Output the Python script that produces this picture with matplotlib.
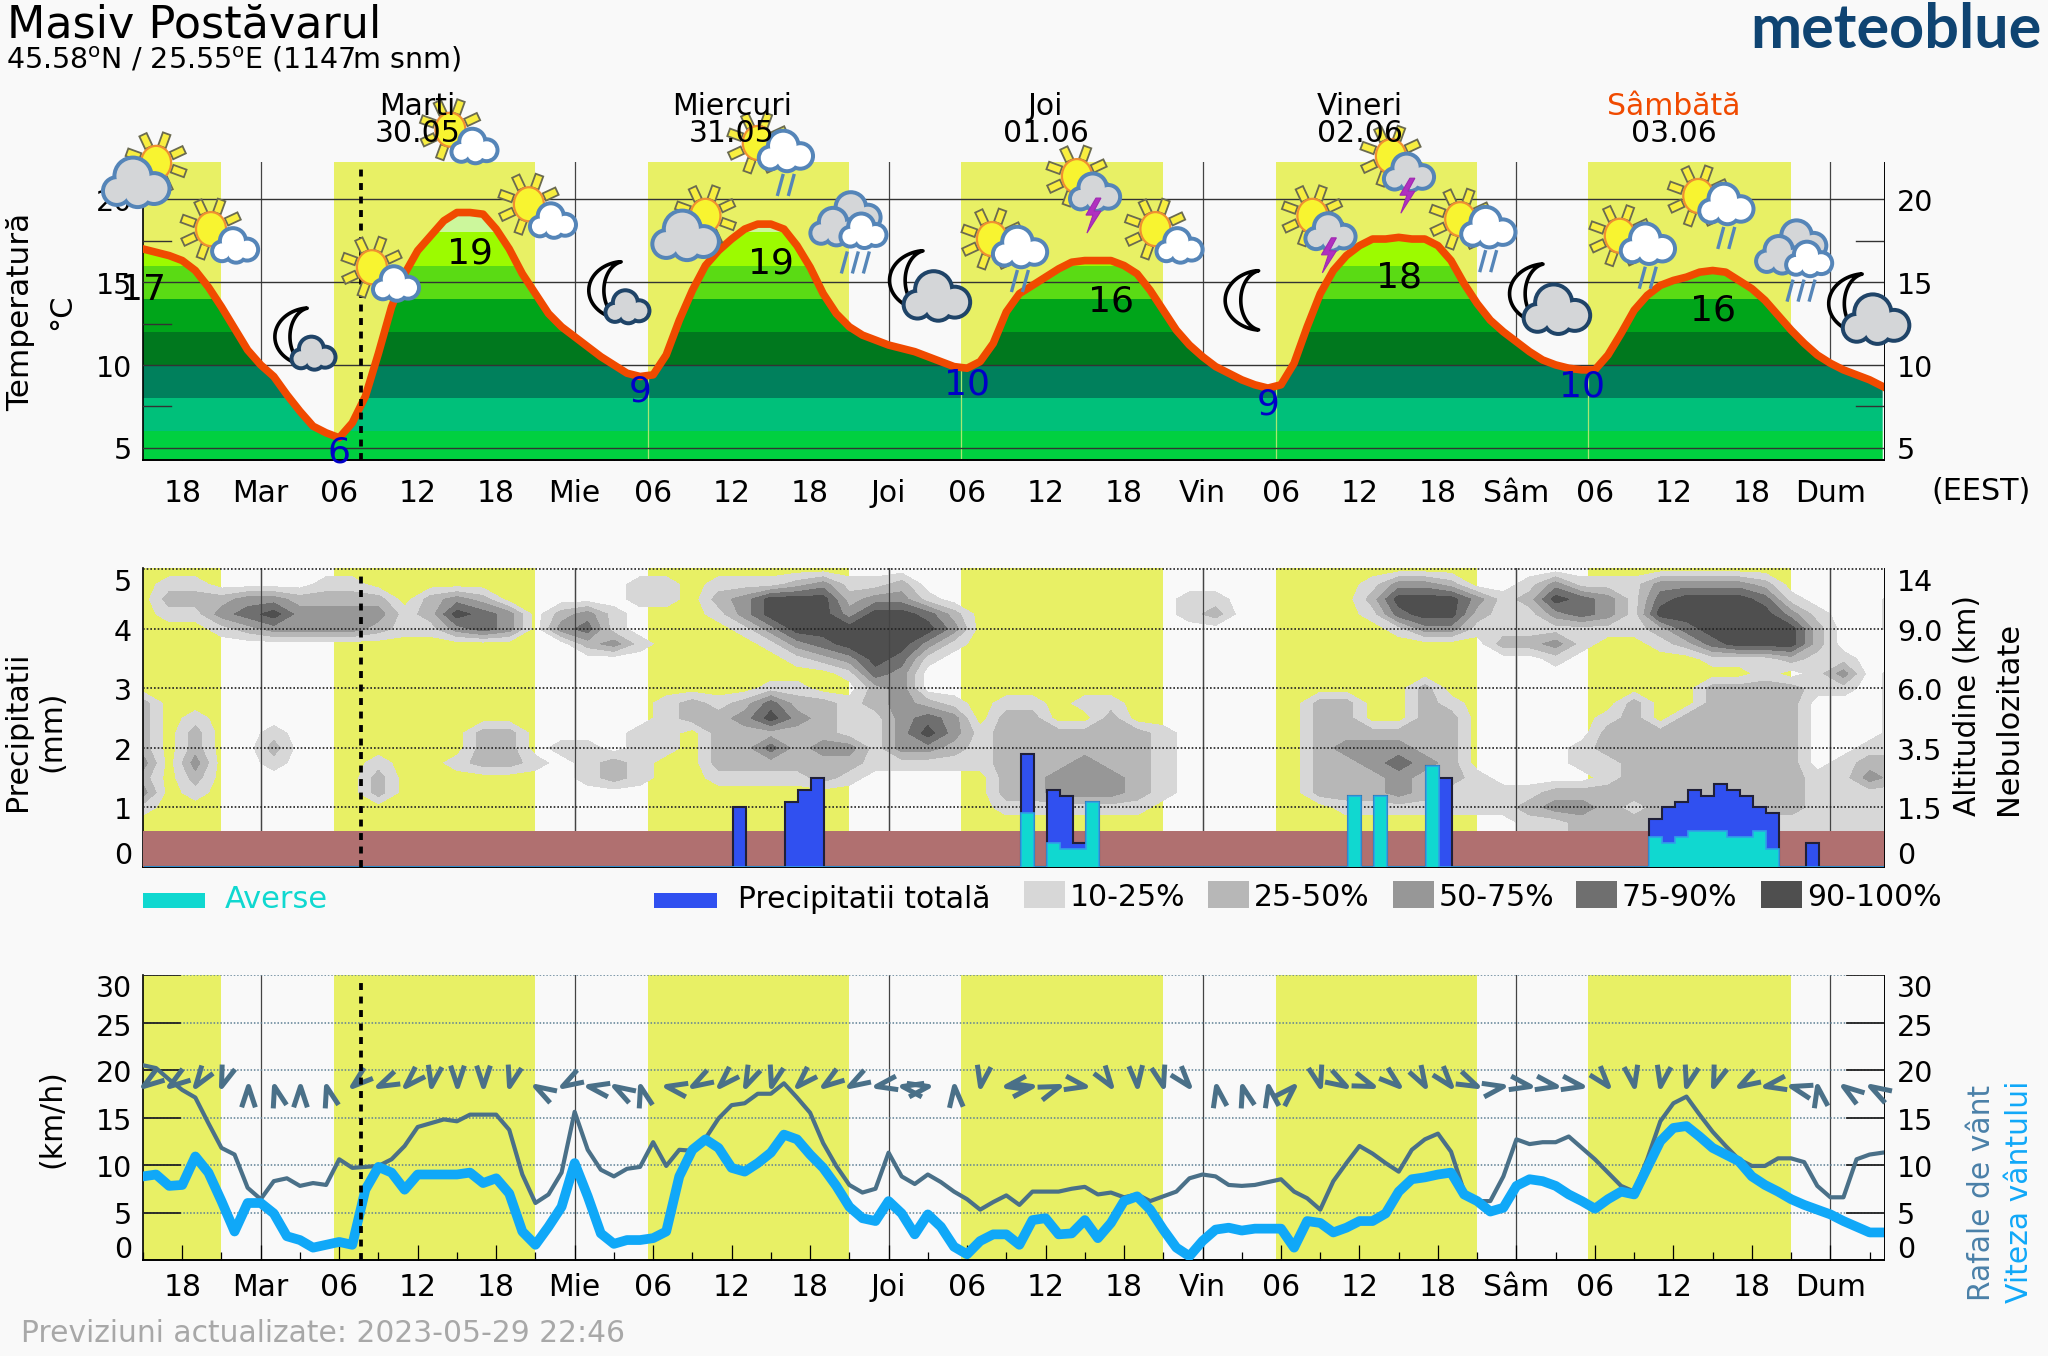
import numpy as np
import matplotlib
matplotlib.use('Agg')
import matplotlib.pyplot as plt
from matplotlib.markers import MarkerStyle
from matplotlib.patches import Circle, Ellipse, Polygon, Rectangle
from matplotlib.path import Path
from matplotlib.ticker import MultipleLocator
from matplotlib.transforms import Affine2D

W, H = 2048, 1356

# hour 0 = Tuesday 00:00, values are hourly from -9 to 124
temp = [17.0, 16.8, 16.6, 16.3, 15.7, 14.7, 13.5, 12.2, 10.9, 10.0, 9.3, 8.2, 7.2, 6.3, 5.9, 5.6,
        6.5, 8.1, 10.7, 13.5, 15.5, 16.9, 17.8, 18.7, 19.2, 19.2, 19.1, 18.2, 17.0, 15.5, 14.3, 13.1,
        12.3, 11.7, 11.1, 10.5, 10.0, 9.5, 9.3, 9.4, 10.6, 12.7, 14.5, 16.0, 16.9, 17.6, 18.2, 18.5,
        18.5, 18.2, 17.2, 15.9, 14.3, 13.1, 12.3, 11.8, 11.5, 11.2, 11.0, 10.8, 10.5, 10.2, 9.9, 9.8,
        10.2, 11.3, 13.2, 14.3, 14.8, 15.3, 15.8, 16.2, 16.3, 16.3, 16.3, 16.0, 15.5, 14.5, 13.3, 12.1,
        11.2, 10.5, 9.9, 9.5, 9.1, 8.8, 8.6, 8.8, 10.1, 12.3, 14.3, 15.7, 16.6, 17.2, 17.6, 17.6,
        17.7, 17.6, 17.6, 17.2, 16.3, 14.9, 13.7, 12.7, 12.0, 11.4, 10.8, 10.3, 10.0, 9.8, 9.7, 9.7,
        10.6, 11.9, 13.3, 14.2, 14.8, 15.1, 15.3, 15.6, 15.7, 15.6, 15.1, 14.6, 13.9, 13.0, 12.1, 11.3,
        10.6, 10.1, 9.7, 9.4, 9.1, 8.7]

wind = [8.8, 9.0, 7.8, 7.9, 10.9, 9.2, 6.2, 3.0, 6.0, 6.0, 4.9, 2.5, 2.1, 1.3, 1.6, 1.9, 1.6,
        7.4, 9.8, 9.2, 7.4, 9.0, 9.0, 9.0, 9.0, 9.2, 8.1, 8.6, 7.0, 3.0, 1.6, 3.5, 5.6, 10.2, 6.7,
        2.8, 1.7, 2.1, 2.1, 2.3, 3.0, 8.8, 11.6, 12.7, 11.8, 9.7, 9.3, 10.2, 11.3, 13.2, 12.7, 11.1,
        9.7, 7.8, 5.6, 4.4, 4.1, 6.2, 4.9, 2.7, 4.8, 3.5, 1.4, 0.6, 2.0, 2.7, 2.7, 1.6, 4.2, 4.4,
        2.7, 2.8, 4.2, 2.3, 3.9, 6.2, 6.7, 5.3, 3.2, 1.3, 0.4, 2.0, 3.2, 3.4, 3.1, 3.3, 3.3, 3.3,
        1.3, 4.1, 3.9, 2.9, 3.4, 4.1, 4.1, 4.9, 7.2, 8.5, 8.7, 9.0, 9.2, 6.9, 6.2, 5.1, 5.5, 7.8,
        8.5, 8.3, 7.8, 6.9, 6.2, 5.4, 6.4, 7.2, 6.9, 9.7, 12.5, 13.9, 14.1, 13.0, 11.8, 11.1, 10.4,
        8.8, 7.9, 7.2, 6.4, 5.8, 5.3, 4.8, 4.1, 3.5, 2.9, 2.9]

gust = [20.5, 20.2, 19.0, 17.9, 17.1, 14.4, 11.8, 11.1, 7.6, 6.4, 8.3, 8.6, 7.8, 8.1, 7.9, 10.6,
        9.7, 9.8, 9.9, 10.6, 12.0, 14.0, 14.4, 14.8, 14.6, 15.3, 15.3, 15.3, 13.7, 9.0, 6.0, 6.9,
        9.2, 15.6, 11.6, 9.5, 8.8, 9.6, 9.8, 12.4, 9.9, 11.6, 11.5, 12.8, 14.9, 16.3, 16.5, 17.5,
        17.5, 18.6, 17.1, 15.5, 12.3, 9.9, 7.9, 7.1, 7.5, 11.3, 8.8, 8.0, 9.0, 8.2, 7.2, 6.4, 5.3,
        6.1, 6.8, 5.8, 7.2, 7.2, 7.2, 7.5, 7.7, 6.9, 7.1, 6.6, 6.9, 6.2, 6.7, 7.2, 8.6, 9.0, 8.8,
        7.9, 7.8, 7.9, 8.2, 8.5, 7.2, 6.5, 5.3, 8.3, 10.2, 12.0, 11.2, 10.2, 9.3, 11.6, 12.7, 13.3,
        11.4, 7.2, 6.2, 6.2, 8.8, 12.7, 12.2, 12.4, 12.4, 13.0, 11.8, 10.6, 9.2, 7.8, 7.2, 10.6,
        14.6, 16.5, 17.2, 15.3, 13.5, 12.0, 10.6, 9.9, 9.9, 10.7, 10.7, 10.3, 7.8, 6.6, 6.6, 10.6,
        11.1, 11.3]

# wind direction every 2 hours from -9, degrees the arrow points to
wind_dir = [235, 235, 215, 200, 0, 345, 0, 345, 230, 245, 225, 190, 180, 180, 195, 300, 240, 280,
            300, 345, 280, 240, 225, 205, 195, 225, 235, 240, 260, 280, 80, 355, 190, 260, 80, 70,
            100, 145, 175, 165, 140, 350, 345, 350, 45, 165, 120, 110, 130, 150, 140, 115, 80, 100,
            100, 100, 140, 170, 190, 195, 200, 240, 260, 285, 350, 305, 300]

rain_hours = [36, 40, 41, 42, 58, 60, 61, 62, 63, 83, 85, 89, 90,
              106, 107, 108, 109, 110, 111, 112, 113, 114, 115, 118]
rain_total = [1.0, 1.1, 1.3, 1.5, 1.9, 1.3, 1.2, 0.4, 1.1, 1.2, 1.2, 1.7, 1.5,
              0.8, 1.0, 1.1, 1.3, 1.2, 1.4, 1.3, 1.2, 1.0, 0.9, 0.4]
rain_shower = [0, 0, 0, 0, 0.9, 0.4, 0.3, 0.3, 1.1, 1.2, 1.2, 1.7, 0,
               0.5, 0.4, 0.5, 0.6, 0.6, 0.6, 0.5, 0.5, 0.6, 0.3, 0]

# cloud cover class (1 = 10-25% ... 5 = 90-100%), one row per level, one digit every 2 hours
cloud_levels = [5.0, 4.75, 4.5, 4.25, 4.0, 3.75, 3.5, 3.25, 3.0, 2.75, 2.5, 2.25, 2.0, 1.75, 1.5, 1.25, 1.0, 0.75, 0.5]
cloud_rows = [
    "0000000000 0000000000 0000000000 0000000000 0000000000 0000000000 00000000",
    "0110000110 0000000001 1011123112 0000000000 0000000133 2001311133 33200000",
    "0222332222 0232000001 1023555233 1000000000 1100000255 5312543145 55410001",
    "0113453333 1254302310 0013555355 4200000000 1200000145 5211343155 55531001",
    "0001233332 1134303410 0001355555 5300000000 0000000013 3111111124 55552001",
    "0000000000 0000000231 0000134555 3100000000 0000000000 0022310012 45552000",
    "0000000000 0000000000 0000012354 1000000000 0000000000 0000100000 11121100",
    "0000000000 0000000000 0000000143 0000000000 0000000000 0000000000 00101301",
    "0000000000 0000000000 0000110023 0000000000 0000000002 0000000000 22221101",
    "2000000000 0000000000 1212422123 2101101100 0000022002 1000000200 22220001",
    "2010000000 0000000000 1223532113 4302200200 0000022002 2000001202 22220001",
    "2020010000 0002200001 1022222113 5312222221 0000022222 2000002222 22220001",
    "2020020000 0002201101 1022423313 3212222221 0000023332 2000012222 22220011",
    "3030010001 0012210121 0022222211 1112223221 0000022343 2000011222 22220122",
    "2020000002 0000000121 0011112100 0002233321 0000022232 2100001222 22221132",
    "3010000002 0000000000 0000000000 0002233321 0000022232 1111222222 22221111",
    "1000000000 0000000000 0000000000 0001111110 0000001111 1112332122 22221111",
    "0000000000 0000000000 0000000000 0000000000 0000000000 0001122221 11111111",
    "0000000000 0000000000 0000000000 0000000000 0000000000 0001122221 11111111",
]
cloud_colors = ['#d7d7d7', '#b7b7b7', '#979797', '#6f6f6f', '#4f4f4f']
cloud_names = ['10-25%', '25-50%', '50-75%', '75-90%', '90-100%']

day_start = [-9, 5.6, 29.6, 53.5, 77.6, 101.5]
day_end = [-3, 21, 45, 69, 93, 117]
sunrise = [29.6, 53.5, 77.6, 101.5]
now_hour = 7.65

band_edges = [4, 6, 8, 10, 12, 14, 16, 18, 23]
band_colors = ['#00d040', '#00c07a', '#00805c', '#00781e', '#00a51a', '#5adb14', '#9cfb00', '#ccf79c']

day_names = ['Marti', 'Miercuri', 'Joi', 'Vineri', 'Sâmbătă']
day_dates = ['30.05', '31.05', '01.06', '02.06', '03.06']
hour_labels = ['18', 'Mar', '06', '12', '18', 'Mie', '06', '12', '18', 'Joi', '06', '12', '18',
               'Vin', '06', '12', '18', 'Sâm', '06', '12', '18', 'Dum']

# min / max labels: hour, height on the axis, text, colour
ext_hours = [-9, 6, 16, 29, 39, 54, 65, 77, 87, 101, 111]
ext_levels = [14.5, 4.7, 16.7, 8.4, 16.1, 8.8, 13.8, 7.6, 15.3, 8.7, 13.3]
ext_text = ['17', '6', '19', '9', '19', '10', '16', '9', '18', '10', '16']
ext_color = ['k', 'b', 'k', 'b', 'k', 'b', 'k', 'b', 'k', 'b', 'k']

# weather symbols, anchored on the sun or moon
icon_hours = [-8, -3.8, 2.5, 8.5, 14.5, 20.5, 26.5, 34, 38, 45, 50, 55.9, 62.4, 68.4, 75.2,
              80.4, 86.4, 91.7, 97.4, 103.9, 109.9, 117.3, 121.8]
icon_levels = [22.2, 18.2, 11.7, 15.9, 24.2, 19.7, 14.5, 19.0, 23.4, 18.6, 15.1, 17.6, 21.4, 18.2, 13.9,
               19.0, 22.6, 18.8, 14.3, 17.8, 20.2, 16.9, 13.7]
icon_kinds = ['sun_big', 'sun_cloud', 'moon_cloud', 'sun_cloud', 'sun_cloud', 'sun_cloud', 'moon_cloud',
              'sun_big', 'sun_rain', 'triple_rain', 'moon_big', 'sun_rain', 'sun_bolt', 'sun_cloud', 'moon',
              'sun_bolt', 'sun_bolt', 'sun_rain', 'moon_big', 'sun_rain', 'sun_rain', 'triple_rain', 'moon_big']

BG = '#f9f9f9'
YELLOW = '#e8f065'
BROWN = '#b07070'
ORANGE = '#f04a00'
WIND = '#10a8f8'
GUST = '#4a7088'
CYAN = '#10d8d0'
BLUE = '#3050f0'

hours = np.arange(-9, 125)

fig = plt.figure(figsize=(W / 100, H / 100), dpi=100, facecolor=BG)


def panel(left, top, right, bottom):
    ax = fig.add_axes([left / W, 1 - bottom / H, (right - left) / W, (bottom - top) / H])
    ax.set_facecolor(BG)
    ax.set_xlim(-9, 124.1)
    ax.spines['top'].set_visible(False)
    ax.spines['right'].set_linewidth(0.7)
    ax.spines['left'].set_linewidth(1.2)
    ax.spines['bottom'].set_linewidth(1.4)
    ax.set_yticks([])
    ax.xaxis.set_major_locator(MultipleLocator(6))
    ax.xaxis.set_minor_locator(MultipleLocator(3))
    ax.tick_params(axis='x', which='major', direction='in', length=10.8, width=0.9, labelbottom=False)
    ax.tick_params(axis='x', which='minor', direction='in', length=5.8, width=0.9)
    for k in range(0, 6):
        ax.axvline(24 * k, color='#444444', lw=0.9, zorder=1.5)
    return ax


def y_labels(ax, values, texts, shifts, side='left'):
    for v, t, s in zip(values, texts, shifts):
        if side == 'left':
            ax.annotate(t, xy=(0, v), xycoords=ax.get_yaxis_transform(), xytext=(-11, -s),
                        textcoords='offset pixels', ha='right', va='center', fontsize=20.5)
        else:
            ax.annotate(t, xy=(1, v), xycoords=ax.get_yaxis_transform(), xytext=(13, -s),
                        textcoords='offset pixels', ha='left', va='center', fontsize=20.5)


def x_labels(ax, pad):
    ticks = np.arange(-6, 121, 6)
    ax.set_xticks(ticks, hour_labels)
    ax.tick_params(axis='x', which='major', labelbottom=True, labelsize=21.5, pad=pad)


def now_line(ax):
    ax.axvline(now_hour, ymin=0, ymax=0.98, color='k', lw=2.7, linestyle=(0, (1.85, 1.75)), zorder=6)


# ---- temperature ----
ax1 = panel(143, 162, 1884, 460)
ax1.set_ylim(4.26, 22.25)
for s, e in zip(day_start, day_end):
    ax1.axvspan(s, e, color=YELLOW, lw=0, zorder=1)
under = ax1.fill_between(hours, 4.26, temp, color='none', lw=0)
clip = under.get_paths()[0]
for i, c in enumerate(band_colors):
    sp = ax1.axhspan(band_edges[i], band_edges[i + 1], color=c, lw=0, zorder=2)
    sp.set_clip_path(clip, ax1.transData)
for x in sunrise:
    ln = ax1.axvline(x, color='#a8e870', lw=0.9, zorder=2.5)
    ln.set_clip_path(clip, ax1.transData)
for v in [5, 10, 15, 20]:
    ax1.axhline(v, color='#333333', lw=1, zorder=3)
for v in [7.5, 12.5, 17.5]:
    ax1.plot([0, 0.0158], [v, v], color='#333333', lw=1, transform=ax1.get_yaxis_transform(), zorder=3)
    ax1.plot([0.9842, 1], [v, v], color='#333333', lw=1, transform=ax1.get_yaxis_transform(), zorder=3)
ax1.plot(hours, temp, color=ORANGE, lw=5.5, solid_joinstyle='round', zorder=4)
now_line(ax1)
y_labels(ax1, [5, 10, 15, 20], ['5', '10', '15', '20'], [3, 4, 4, 4])
y_labels(ax1, [5, 10, 15, 20], ['5', '10', '15', '20'], [3, 4, 4, 4], side='right')
x_labels(ax1, 14)
for h, v, t, c in zip(ext_hours, ext_levels, ext_text, ext_color):
    ax1.text(h, v, t, fontsize=26, ha='center', va='center', zorder=5, clip_on=False,
             color='#0000c8' if c == 'b' else 'k')

# ---- precipitation and clouds ----
ax2 = panel(143, 568, 1884, 867)
ax2.set_ylim(0, 5.025)
for s, e in zip(day_start, day_end):
    ax2.axvspan(s, e, ymin=0.6 / 5.025, color=YELLOW, lw=0, zorder=1)
cover = np.array([[int(ch) for ch in row.replace(' ', '')] for row in cloud_rows])
cloud_hours = np.arange(-9, 126, 2)
ax2.contourf(cloud_hours, cloud_levels, cover, levels=[0.5, 1.5, 2.5, 3.5, 4.5, 5.5], colors=cloud_colors, zorder=2)
for k in range(0, 6):
    ax2.axvline(24 * k, color='#444444', lw=0.9, zorder=2.5)
ax2.axhspan(0, 0.6, color=BROWN, lw=0, zorder=3)
for v in [1, 2, 3, 4, 5]:
    ax2.axhline(v, color='#222222', lw=1.2, linestyle=(0, (1, 1.2)), zorder=3.5)
total = np.zeros(len(hours))
shower = np.zeros(len(hours))
for h, t, s in zip(rain_hours, rain_total, rain_shower):
    total[h + 9] = t
    shower[h + 9] = s
edges = np.arange(-9, 126) + 0.1
ax2.stairs(total, edges, fill=True, facecolor=BLUE, edgecolor='none', zorder=4)
ax2.stairs(total, edges, color='#202038', lw=1.5, zorder=4.2)
ax2.stairs(shower, edges, fill=True, facecolor=CYAN, edgecolor='none', zorder=4.4)
ax2.stairs(shower, edges, color='#30a0e8', lw=1.2, zorder=4.5)
ax2.tick_params(axis='x', which='both', zorder=5)
now_line(ax2)
y_labels(ax2, [0, 1, 2, 3, 4, 5], ['0', '1', '2', '3', '4', '5'], [-11, 4, 4, 4, 4, 14])
y_labels(ax2, [0, 1, 2, 3, 4, 5], ['0', '1.5', '3.5', '6.0', '9.0', '14'], [-11, 4, 4, 4, 4, 14], side='right')

# ---- wind ----
ax3 = panel(143, 975, 1884, 1260)
ax3.set_ylim(0, 30)
for s, e in zip(day_start, day_end):
    ax3.axvspan(s, e, color=YELLOW, lw=0, zorder=1)
for v in [5, 10, 15, 20, 25, 30]:
    ax3.axhline(v, color='#5d7f94', lw=1.1, linestyle=(0, (1, 1.2)), zorder=1.8)
    ax3.plot([0, 0.021], [v, v], color='#222222', lw=1.3, transform=ax3.get_yaxis_transform(), zorder=3)
    ax3.plot([0.979, 1], [v, v], color='#222222', lw=1.3, transform=ax3.get_yaxis_transform(), zorder=3)
ax3.plot(hours, gust, color=GUST, lw=3, solid_joinstyle='round', zorder=3.5)
ax3.plot(hours, wind, color=WIND, lw=7, solid_joinstyle='round', zorder=4)
chevron = Path([(-0.33, -1), (0, 0), (0.33, -1)], [Path.MOVETO, Path.LINETO, Path.LINETO])
for h, d in zip(range(-9, 125, 2), wind_dir):
    m = MarkerStyle(chevron, fillstyle='none', transform=Affine2D().rotate_deg(-d))
    ax3.plot([h], [18.3], marker=m, ms=30, mec=GUST, mew=3.6, mfc='none', linestyle='none', zorder=5, clip_on=False)
now_line(ax3)
y_labels(ax3, [0, 5, 10, 15, 20, 25, 30], ['0', '5', '10', '15', '20', '25', '30'], [-10, 4, 4, 4, 4, 5, 14])
y_labels(ax3, [0, 5, 10, 15, 20, 25, 30], ['0', '5', '10', '15', '20', '25', '30'], [-10, 4, 4, 4, 4, 5, 14], side='right')
x_labels(ax3, 9.5)

# ---- overlay in pixels for texts, legend and symbols ----
top = fig.add_axes([0, 0, 1, 1], zorder=20)
top.set_xlim(0, W)
top.set_ylim(H, 0)
top.axis('off')
top.patch.set_alpha(0)

top.text(7, 37, 'Masiv Postăvarul', fontsize=32, va='baseline')
top.text(6, 68, r'45.58$^{\mathrm{o}}$N / 25.55$^{\mathrm{o}}$E (1147m snm)', fontsize=20.5, va='baseline')
top.text(2042, 48, 'meteoblue', fontsize=44, family='Lato', weight='bold', color='#0f4472', ha='right', va='baseline')
top.text(21, 1342, 'Previziuni actualizate: 2023-05-29 22:46', fontsize=21.4, color='#a8a8a8', va='baseline')
top.text(1981, 491, '(EEST)', fontsize=21.8, ha='center', va='center')

for k, (n, d) in enumerate(zip(day_names, day_dates)):
    cx = ax1.transData.transform((12 + 24 * k, 10))[0]
    top.text(cx, 115, n, fontsize=21.5, ha='center', va='baseline', color=ORANGE if n == 'Sâmbătă' else 'k')
    top.text(cx, 142, d, fontsize=21.5, ha='center', va='baseline')

side = dict(rotation=90, ha='center', va='center')
top.text(21, 312, 'Temperatură', fontsize=22.4, **side)
top.text(62, 312, '°C', fontsize=22, **side)
top.text(18, 731, 'Precipitatii', fontsize=21.6, **side)
top.text(52, 731, '(mm)', fontsize=21.5, **side)
top.text(52, 1119, '(km/h)', fontsize=21.5, **side)
top.text(1968, 706, 'Altitudine (km)', fontsize=21.3, **side)
top.text(2009, 718, 'Nebulozitate', fontsize=22, **side)
top.text(1982, 1193, 'Rafale de vânt', color='#4a80a8', fontsize=21.4, **side)
top.text(2020, 1192, 'Viteza vântului', color=WIND, fontsize=21.5, **side)

top.add_patch(Rectangle((143, 893), 62, 15, color=CYAN, lw=0))
top.text(225, 899, 'Averse', fontsize=22, color=CYAN, va='center')
top.add_patch(Rectangle((654, 893), 63, 15, color=BLUE, lw=0))
top.text(738, 899, 'Precipitatii totală', fontsize=21.4, va='center')
for px, c, n in zip([1024, 1208, 1393, 1576, 1761], cloud_colors, cloud_names):
    top.add_patch(Rectangle((px, 881), 41, 27, color=c, lw=0))
    top.text(px + 46, 897, n, fontsize=21.5, va='center')


def sun(cx, cy):
    for a in np.arange(20, 380, 45):
        r = np.radians(a)
        dx, dy = np.cos(r), np.sin(r)
        nx, ny = -dy * 4, dx * 4
        p = [(cx + dx * 17 + nx, cy + dy * 17 + ny), (cx + dx * 31 + nx, cy + dy * 31 + ny),
             (cx + dx * 31 - nx, cy + dy * 31 - ny), (cx + dx * 17 - nx, cy + dy * 17 - ny)]
        top.add_patch(Polygon(p, fc='#f8ee40', ec='#6a6a50', lw=1.3))
    top.add_patch(Ellipse((cx, cy), 30, 34, fc='#f8f430', ec='#f09030', lw=1.6))


def puff(cx, cy, size, fill, edge):
    blobs = [(-0.62, 0.2, 0.4), (-0.1, -0.28, 0.55), (0.58, 0.12, 0.45), (0.05, 0.25, 0.42)]
    for b in blobs:
        top.add_patch(Circle((cx + b[0] * size, cy + b[1] * size), b[2] * size + 3.5, fc=edge, ec='none'))
    for b in blobs:
        top.add_patch(Circle((cx + b[0] * size, cy + b[1] * size), b[2] * size - 0.5, fc=fill, ec='none'))


def moon(cx, cy, height):
    t = np.radians(np.linspace(-80, 80, 40))
    half = height / 2
    outer = [(cx + 0.3 * height - 0.62 * height * np.cos(a), cy + half * np.sin(a)) for a in t]
    inner = [(cx + 0.3 * height - 0.36 * height * np.cos(a), cy + half * np.sin(a)) for a in t[::-1]]
    top.add_patch(Polygon(outer + inner, fc=BG, ec='k', lw=2.6, joinstyle='round'))


def rain(cx, cy, count):
    for k in range(count):
        x = cx + (k - (count - 1) / 2) * 11
        top.plot([x + 3, x - 3], [cy - 11, cy + 11], color='#5585b8', lw=2.4, solid_capstyle='butt')


def bolt(cx, cy):
    p = [(cx + 3, cy - 16), (cx - 7, cy + 1), (cx, cy + 1), (cx - 6, cy + 19), (cx + 8, cy - 3), (cx + 1, cy - 3), (cx + 8, cy - 16)]
    top.add_patch(Polygon(p, fc='#b030c0', ec='#a028b0', lw=0.8))


CLOUD_GREY = '#d4d6d8'
CLOUD_BLUE = '#5585b8'
NIGHT_BLUE = '#1f4468'

for h, v, kind in zip(icon_hours, icon_levels, icon_kinds):
    px, py = ax1.transData.transform((h, v))
    py = H - py
    if kind == 'sun_big':
        sun(px, py)
        puff(px - 20, py + 22, 31, CLOUD_GREY, CLOUD_BLUE)
    elif kind == 'sun_cloud':
        sun(px, py)
        puff(px + 24, py + 18, 21, 'white', CLOUD_BLUE)
    elif kind == 'sun_rain':
        sun(px, py)
        puff(px + 28, py + 10, 25, 'white', CLOUD_BLUE)
        rain(px + 28, py + 42, 2)
    elif kind == 'sun_bolt':
        sun(px, py)
        puff(px + 18, py + 18, 23, CLOUD_GREY, CLOUD_BLUE)
        bolt(px + 16, py + 38)
    elif kind == 'moon':
        moon(px, py, 60)
    elif kind == 'moon_cloud':
        moon(px, py, 58)
        puff(px + 20, py + 18, 20, CLOUD_GREY, NIGHT_BLUE)
    elif kind == 'moon_big':
        moon(px - 6, py, 60)
        puff(px + 22, py + 18, 31, CLOUD_GREY, NIGHT_BLUE)
    elif kind == 'triple_rain':
        puff(px + 4, py - 8, 25, CLOUD_GREY, CLOUD_BLUE)
        puff(px - 14, py + 6, 23, CLOUD_GREY, CLOUD_BLUE)
        puff(px + 14, py + 10, 21, 'white', CLOUD_BLUE)
        rain(px + 6, py + 40, 3)

fig.savefig('out.png', dpi=100, facecolor=BG)
